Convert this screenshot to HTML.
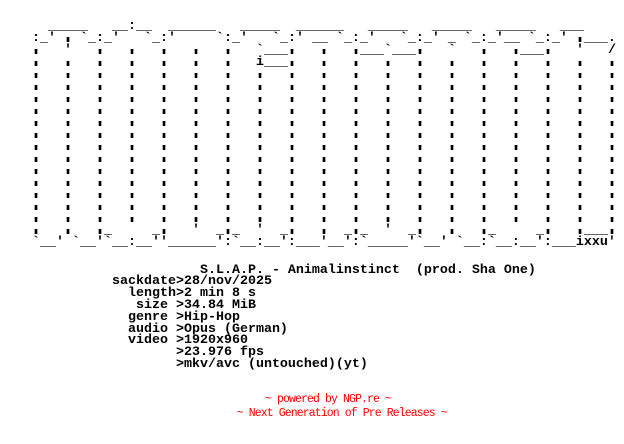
<!DOCTYPE html>
<html>
<head>
<meta charset="utf-8">
<style>
html,body{margin:0;padding:0;background:#fff;}
body{width:624px;height:444px;overflow:hidden;position:relative;}
pre{position:absolute;left:0;margin:0;padding:0;font:700 13.3333px/11.8px "Liberation Mono","DejaVu Sans Mono",monospace;color:#000;white-space:pre;}
pre.art{line-height:12px;}
pre i{font-style:normal;display:inline-block;transform:scale(1.6,.42);transform-origin:50% 7.8px;}
.f{position:absolute;margin:0;font:400 11.5px/14px "Liberation Mono","DejaVu Sans Mono",monospace;letter-spacing:-0.9px;color:#ff0000;white-space:pre;}
</style>
</head>
<body>
<pre class="art" style="top:21.45px">      _____   __:__  ______   _____  ______   _____   _____   _____   ___
    :_' <i>|</i> `_:_'   `_:'     `:_'   `_:' __ `_:_'   `_:_' _ `_:_'__ `_:_' <i>|</i>___.
    <i>|</i>   '   <i>|</i>   <i>|</i>   <i>|</i>   <i>|</i>   <i>|</i>   `___<i>|</i>   <i>|</i>   <i>|</i>___`___<i>|</i>   `   <i>|</i>   <i>|</i>___<i>|</i>   '   /
    <i>|</i>   <i>|</i>   <i>|</i>   <i>|</i>   <i>|</i>   <i>|</i>   <i>|</i>   i___<i>|</i>   <i>|</i>   <i>|</i>   <i>|</i>   <i>|</i>   <i>|</i>   <i>|</i>   <i>|</i>   <i>|</i>   <i>|</i>   <i>|</i>
    <i>|</i>   <i>|</i>   <i>|</i>   <i>|</i>   <i>|</i>   <i>|</i>   <i>|</i>   <i>|</i>   <i>|</i>   <i>|</i>   <i>|</i>   <i>|</i>   <i>|</i>   <i>|</i>   <i>|</i>   <i>|</i>   <i>|</i>   <i>|</i>   <i>|</i>
    <i>|</i>   <i>|</i>   <i>|</i>   <i>|</i>   <i>|</i>   <i>|</i>   <i>|</i>   <i>|</i>   <i>|</i>   <i>|</i>   <i>|</i>   <i>|</i>   <i>|</i>   <i>|</i>   <i>|</i>   <i>|</i>   <i>|</i>   <i>|</i>   <i>|</i>
    <i>|</i>   <i>|</i>   <i>|</i>   <i>|</i>   <i>|</i>   <i>|</i>   <i>|</i>   <i>|</i>   <i>|</i>   <i>|</i>   <i>|</i>   <i>|</i>   <i>|</i>   <i>|</i>   <i>|</i>   <i>|</i>   <i>|</i>   <i>|</i>   <i>|</i>
    <i>|</i>   <i>|</i>   <i>|</i>   <i>|</i>   <i>|</i>   <i>|</i>   <i>|</i>   <i>|</i>   <i>|</i>   <i>|</i>   <i>|</i>   <i>|</i>   <i>|</i>   <i>|</i>   <i>|</i>   <i>|</i>   <i>|</i>   <i>|</i>   <i>|</i>
    <i>|</i>   <i>|</i>   <i>|</i>   <i>|</i>   <i>|</i>   <i>|</i>   <i>|</i>   <i>|</i>   <i>|</i>   <i>|</i>   <i>|</i>   <i>|</i>   <i>|</i>   <i>|</i>   <i>|</i>   <i>|</i>   <i>|</i>   <i>|</i>   <i>|</i>
    <i>|</i>   <i>|</i>   <i>|</i>   <i>|</i>   <i>|</i>   <i>|</i>   <i>|</i>   <i>|</i>   <i>|</i>   <i>|</i>   <i>|</i>   <i>|</i>   <i>|</i>   <i>|</i>   <i>|</i>   <i>|</i>   <i>|</i>   <i>|</i>   <i>|</i>
    <i>|</i>   <i>|</i>   <i>|</i>   <i>|</i>   <i>|</i>   <i>|</i>   <i>|</i>   <i>|</i>   <i>|</i>   <i>|</i>   <i>|</i>   <i>|</i>   <i>|</i>   <i>|</i>   <i>|</i>   <i>|</i>   <i>|</i>   <i>|</i>   <i>|</i>
    <i>|</i>   <i>|</i>   <i>|</i>   <i>|</i>   <i>|</i>   <i>|</i>   <i>|</i>   <i>|</i>   <i>|</i>   <i>|</i>   <i>|</i>   <i>|</i>   <i>|</i>   <i>|</i>   <i>|</i>   <i>|</i>   <i>|</i>   <i>|</i>   <i>|</i>
    <i>|</i>   <i>|</i>   <i>|</i>   <i>|</i>   <i>|</i>   <i>|</i>   <i>|</i>   <i>|</i>   <i>|</i>   <i>|</i>   <i>|</i>   <i>|</i>   <i>|</i>   <i>|</i>   <i>|</i>   <i>|</i>   <i>|</i>   <i>|</i>   <i>|</i>
    <i>|</i>   <i>|</i>   <i>|</i>   <i>|</i>   <i>|</i>   <i>|</i>   <i>|</i>   <i>|</i>   <i>|</i>   <i>|</i>   <i>|</i>   <i>|</i>   <i>|</i>   <i>|</i>   <i>|</i>   <i>|</i>   <i>|</i>   <i>|</i>   <i>|</i>
    <i>|</i>   <i>|</i>   <i>|</i>   <i>|</i>   <i>|</i>   <i>|</i>   <i>|</i>   <i>|</i>   <i>|</i>   <i>|</i>   <i>|</i>   <i>|</i>   <i>|</i>   <i>|</i>   <i>|</i>   <i>|</i>   <i>|</i>   <i>|</i>   <i>|</i>
    <i>|</i>   <i>|</i>   <i>|</i>   <i>|</i>   <i>|</i>   <i>|</i>   <i>|</i>   <i>|</i>   <i>|</i>   <i>|</i>   <i>|</i>   <i>|</i>   <i>|</i>   <i>|</i>   <i>|</i>   <i>|</i>   <i>|</i>   <i>|</i>   <i>|</i>
    <i>|</i>   <i>|</i>   <i>|</i>   <i>|</i>   <i>|</i>   <i>|</i>   <i>|</i>   <i>|</i>   <i>|</i>   <i>|</i>   <i>|</i>   <i>|</i>   <i>|</i>   <i>|</i>   <i>|</i>   <i>|</i>   <i>|</i>   <i>|</i>   <i>|</i>
    <i>|</i>   <i>|</i>   <i>|</i>_     _<i>|</i>   '  _<i>|</i>_  '  _<i>|</i>   <i>|</i>  _<i>|</i>_  '  _<i>|</i>   <i>|</i>   <i>|</i>_     _<i>|</i>   <i>|</i>___<i>|</i>
    `__' `__'`__:__''______':`__:__':___'__':`_____'`__' `__:`__:__':___ixxu'</pre>
<pre style="top:264.55px">                         S.L.A.P. - Animalinstinct  (prod. Sha One)
              sackdate&gt;28/nov/2025
                length&gt;2 min 8 s
                 size &gt;34.84 MiB
                genre &gt;Hip-Hop
                audio &gt;Opus (German)
                video &gt;1920x960
                      &gt;23.976 fps
                      &gt;mkv/avc (untouched)(yt)</pre>
<div class="f" style="left:265px;top:392.6px">~ powered by NGP.re ~</div>
<div class="f" style="left:236.7px;top:407.2px">~ Next Generation of Pre Releases ~</div>
</body>
</html>
